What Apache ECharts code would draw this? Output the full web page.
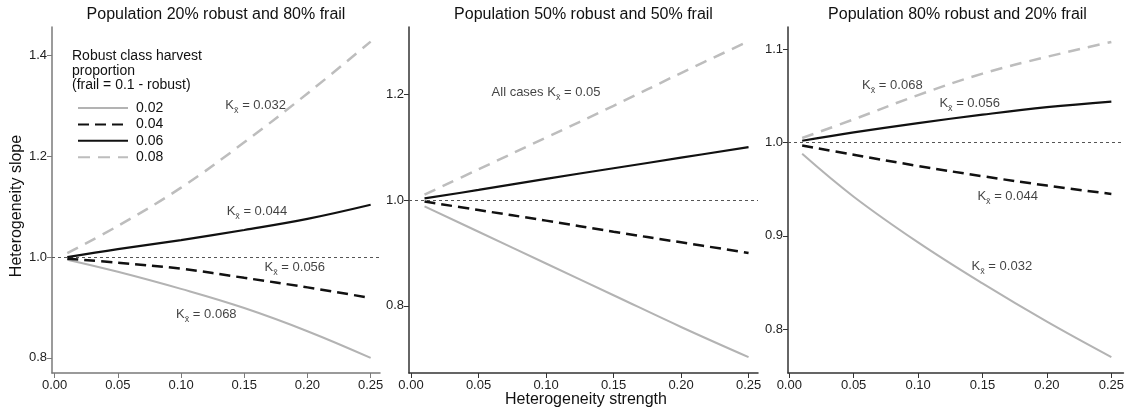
<!DOCTYPE html>
<html><head><meta charset="utf-8">
<script src="https://cdn.jsdelivr.net/npm/echarts@6/dist/echarts.min.js"></script>
<style>html,body{margin:0;padding:0;background:#fff}#c{width:1127px;height:418px}</style>
</head><body><div id="c"></div>
<script>
// ---- data ----
const xValues = [0.01, 0.05, 0.10, 0.15, 0.20, 0.25];
const seriesNames = ['0.02', '0.04', '0.06', '0.08'];

const p1_002 = [0.995, 0.971, 0.937, 0.899, 0.853, 0.800];
const p1_004 = [0.997, 0.989, 0.977, 0.959, 0.940, 0.919];
const p1_006 = [1.000, 1.016, 1.034, 1.054, 1.076, 1.104];
const p1_008 = [1.008, 1.062, 1.138, 1.228, 1.325, 1.428];

const p2_002 = [0.988, 0.940, 0.880, 0.820, 0.760, 0.703];
const p2_004 = [0.997, 0.981, 0.961, 0.940, 0.920, 0.900];
const p2_006 = [1.003, 1.019, 1.040, 1.060, 1.080, 1.100];
const p2_008 = [1.010, 1.058, 1.118, 1.178, 1.240, 1.300];

const p3_002 = [0.988, 0.942, 0.893, 0.849, 0.808, 0.770];
const p3_004 = [0.997, 0.987, 0.975, 0.964, 0.954, 0.945];
const p3_006 = [1.002, 1.011, 1.021, 1.030, 1.038, 1.044];
const p3_008 = [1.005, 1.025, 1.051, 1.074, 1.092, 1.108];

const xTickValues = [0, 0.05, 0.10, 0.15, 0.20, 0.25];
const p1YTicks = [0.8, 1.0, 1.2, 1.4];
const p2YTicks = [0.8, 1.0, 1.2];
const p3YTicks = [0.8, 0.9, 1.0, 1.1];

const panelTitles = ['Population 20% robust and 80% frail', 'Population 50% robust and 50% frail', 'Population 80% robust and 20% frail'];
const legendTitle = 'Robust class harvest\nproportion\n(frail = 0.1 - robust)';
const xAxisTitle = 'Heterogeneity strength';
const yAxisTitle = 'Heterogeneity slope';

// annotations: [x, y, prefix, value]
const notes1 = [[0.159, 1.298, '', '0.032'], [0.160, 1.087, '', '0.044'], [0.190, 0.976, '', '0.056'], [0.120, 0.883, '', '0.068']];
const notes2 = [[0.100, 1.200, 'All cases ', '0.05']];
const notes3 = [[0.080, 1.060, '', '0.068'], [0.140, 1.040, '', '0.056'], [0.1695, 0.9407, '', '0.044'], [0.165, 0.866, '', '0.032']];

// ---- layout ----
const FONT = '"Liberation Sans", Arial, Helvetica, sans-serif';
const panels = [
  { left: 52, width: 328, xmin: -0.0021, xmax: 0.2574, ymin: 0.770, ymax: 1.457, yTicks: p1YTicks, axisColor: '#7a7a7a', data: [p1_002, p1_004, p1_006, p1_008], notes: notes1 },
  { left: 409, width: 349, xmin: -0.0015, xmax: 0.2570, ymin: 0.673, ymax: 1.327, yTicks: p2YTicks, axisColor: '#333', data: [p2_002, p2_004, p2_006, p2_008], notes: notes2 },
  { left: 788, width: 339, xmin: -0.0010, xmax: 0.2594, ymin: 0.753, ymax: 1.124, yTicks: p3YTicks, axisColor: '#333', data: [p3_002, p3_004, p3_006, p3_008], notes: notes3 }
];
const TOP = 27, HEIGHT = 346;

const styles = [
  { color: '#b3b3b3', width: 2, type: 'solid' },
  { color: '#111111', width: 2.5, type: [11, 6] },
  { color: '#111111', width: 2.2, type: 'solid' },
  { color: '#bdbdbd', width: 2.5, type: [12, 8] }
];

const grid = [], xAxis = [], yAxis = [], series = [], graphic = [];
panels.forEach((p, i) => {
  grid.push({ left: p.left, top: TOP, width: p.width, height: HEIGHT, containLabel: false });
  xAxis.push({
    type: 'value', gridIndex: i, min: p.xmin, max: p.xmax,
    axisLine: { show: true, onZero: false, lineStyle: { color: p.axisColor, width: 1.5 } },
    axisTick: { show: true, length: 5, customValues: xTickValues, lineStyle: { color: p.axisColor, width: 1 } },
    axisLabel: { customValues: xTickValues, formatter: v => v.toFixed(2), fontSize: 13, color: '#222', margin: 6, fontFamily: FONT },
    splitLine: { show: false }
  });
  yAxis.push({
    type: 'value', gridIndex: i, min: p.ymin, max: p.ymax,
    axisLine: { show: true, onZero: false, lineStyle: { color: p.axisColor, width: 1.5 } },
    axisTick: { show: true, length: 5, customValues: p.yTicks, lineStyle: { color: p.axisColor, width: 1 } },
    axisLabel: { customValues: p.yTicks, formatter: v => v.toFixed(1), fontSize: 13, color: '#222', margin: 5, fontFamily: FONT },
    splitLine: { show: false }
  });
  p.data.forEach((vals, k) => {
    const s = {
      type: 'line', name: seriesNames[k], xAxisIndex: i, yAxisIndex: i,
      data: xValues.map((x, j) => [x, vals[j]]),
      smooth: 0.4, symbol: 'none', showSymbol: false,
      lineStyle: { color: styles[k].color, width: styles[k].width, type: styles[k].type },
      itemStyle: { color: styles[k].color },
      z: 3, silent: true
    };
    if (k === 0) {
      s.markLine = {
        silent: true, symbol: 'none', label: { show: false },
        lineStyle: { color: '#555', width: 1, type: [3, 3] },
        data: [{ yAxis: 1 }], z: 1
      };
    }
    series.push(s);
  });
  series.push({
    type: 'scatter', name: 'notes' + i, xAxisIndex: i, yAxisIndex: i,
    data: p.notes.map(n => ({ value: [n[0], n[1]], pre: n[2], val: n[3] })),
    symbolSize: 0, itemStyle: { color: 'transparent' }, silent: true, z: 5,
    label: {
      show: true, position: 'inside',
      formatter: prm => '{k|' + prm.data.pre + 'K}{s|x\u0304}{k| = ' + prm.data.val + '}',
      rich: {
        k: { fontSize: 13, color: '#111', fontFamily: FONT, verticalAlign: 'top', lineHeight: 16 },
        s: { fontSize: 9, color: '#111', fontFamily: FONT, verticalAlign: 'bottom', lineHeight: 16 }
      }
    }
  });
  graphic.push({
    type: 'text', x: p.left + p.width / 2, y: 15,
    style: { text: panelTitles[i], font: '16px ' + FONT, fill: '#111', textAlign: 'center', textVerticalAlign: 'middle' },
    silent: true
  });
});

graphic.push({
  type: 'text', x: 72, y: 49,
  style: { text: legendTitle, font: '14px ' + FONT, fill: '#111', lineHeight: 14.5, textVerticalAlign: 'top' }, silent: true
});
graphic.push({
  type: 'text', x: 586, y: 400,
  style: { text: xAxisTitle, font: '16px ' + FONT, fill: '#111', textAlign: 'center', textVerticalAlign: 'middle' }, silent: true
});
graphic.push({
  type: 'text', x: 17, y: 206, rotation: Math.PI / 2,
  style: { text: yAxisTitle, font: '16px ' + FONT, fill: '#111', textAlign: 'center', textVerticalAlign: 'middle' }, silent: true
});

const chart = echarts.init(document.getElementById('c'), null, { renderer: 'canvas' });
chart.setOption({
  animation: false,
  backgroundColor: '#fff',
  textStyle: { fontFamily: FONT },
  grid, xAxis, yAxis, series, graphic,
  legend: {
    data: seriesNames, orient: 'vertical', left: 72, top: 96,
    itemWidth: 50, itemHeight: 14, itemGap: 2.4, selectedMode: false,
    itemStyle: { opacity: 0 },
    textStyle: { fontSize: 14, color: '#111', fontFamily: FONT, padding: [0, 0, 0, 3] }
  }
});
</script>
</body></html>
